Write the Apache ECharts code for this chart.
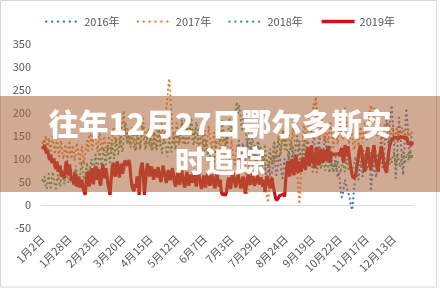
<!DOCTYPE html>
<html>
<head>
<meta charset="utf-8">
<script src="https://cdn.jsdelivr.net/npm/echarts@6/dist/echarts.min.js"></script>
<style>
html,body{margin:0;padding:0;background:#fff;}
#chart{width:440px;height:288px;}
</style>
</head>
<body>
<div id="chart"></div>
<script>
// Category labels: daily dates (leap-year calendar), 1月2日 .. 12月31日, with 5月1日 and 10月1日-7日 absent
const monthDays = [31,29,31,30,31,30,31,31,30,31,30,31];
const skippedDates = ['5月1日','10月1日','10月2日','10月3日','10月4日','10月5日','10月6日','10月7日'];
const categories = [];
for (let m = 0; m < 12; m++) {
  for (let d = (m === 0 ? 2 : 1); d <= monthDays[m]; d++) {
    const s = (m + 1) + '月' + d + '日';
    if (skippedDates.indexOf(s) < 0) categories.push(s);
  }
}

const seriesNames = ['2016年','2017年','2018年','2019年'];
const yTicks = { min: -50, max: 350, step: 50 };

const values2019 = [
128,122,131,118,112,120,104,98,110,92,88,101,84,78,95,72,68,86,62,74,66,
58,82,95,76,64,88,70,52,60,45,72,58,40,48,62,38,44,55,35,30,22,
48,72,65,40,58,80,62,45,70,85,55,66,78,50,42,68,88,72,58,80,64,
45,35,22,55,80,92,70,62,86,95,74,60,82,90,68,78,96,100,92,85,98,
88,60,42,35,30,45,38,62,55,22,70,85,92,66,22,48,75,90,80,62,72,
84,66,55,78,70,60,82,74,58,50,68,86,72,64,48,58,76,62,54,70,80,
65,48,40,56,70,52,44,62,75,58,46,38,60,72,50,42,66,58,48,70,62,
54,40,68,76,58,45,35,52,64,48,38,60,70,55,42,50,66,58,44,36,62,
70,52,40,55,30,22,18,25,20,28,45,60,50,35,55,72,60,48,38,56,68,
58,44,36,50,62,48,25,40,58,66,52,44,60,70,55,42,38,56,64,50,45,
60,52,40,55,28,48,62,55,44,36,50,58,40,30,18,10,8,15,20,18,22,
20,24,18,55,80,95,70,62,88,100,76,65,90,108,82,70,95,85,72,98,104,
88,76,110,125,98,84,118,130,102,90,80,115,126,96,86,112,122,100,92,120,108,
96,118,128,104,92,115,110,112,110,108,111,110,112,106,118,124,100,92,130,122,106,
128,110,92,78,65,58,55,62,75,90,108,122,130,118,98,84,72,95,112,126,104,
88,76,100,118,130,108,92,80,72,96,114,128,116,98,84,76,70,92,112,128,136,
142,145,146,144,147,145,143,146,148,145,147,144,146,145,148,140,132,128,135,130,138
];

const values2017 = [
135,142,128,150,138,122,145,130,118,140,152,126,110,132,145,120,105,128,140,115,100,
118,132,108,95,125,140,112,100,130,118,96,110,135,122,105,90,115,128,102,88,110,
125,140,118,150,165,138,120,155,172,148,130,115,142,160,135,118,128,150,140,122,110,
135,150,128,112,145,168,152,130,175,190,160,142,125,158,180,205,172,150,138,165,148,
130,155,172,145,125,118,140,162,150,132,120,145,170,188,155,138,125,150,165,142,130,
118,140,158,135,122,150,170,145,128,160,185,150,135,170,205,230,258,275,240,200,168,
150,132,160,178,145,130,155,170,148,135,162,185,158,140,130,152,175,160,142,128,150,
165,140,125,148,170,155,132,118,145,162,138,120,150,172,148,130,115,140,158,135,122,
145,160,130,112,138,155,128,108,125,148,132,110,95,120,142,118,100,88,112,130,105,
92,115,128,102,85,70,98,60,25,55,88,110,95,78,102,120,98,80,65,90,108,
85,70,95,110,80,45,20,5,30,75,102,88,120,140,112,95,128,150,130,108,125,
145,162,138,120,150,172,155,130,118,142,168,150,125,105,80,40,2,30,90,135,160,
178,150,132,165,190,172,150,180,205,220,198,235,210,185,160,142,170,188,155,138,160,
175,150,135,160,182,158,140,125,152,170,148,132,160,185,168,150,142,175,213,190,165,
150,132,158,175,148,130,120,145,165,140,128,152,170,148,135,160,182,158,140,168,190,
205,217,198,185,210,196,172,150,165,188,160,142,135,158,175,150,138,162,180,155,140,
160,175,150,135,158,170,148,160,142,155,168,150,162,158,145,152,165,148,155,160,150
];

const values2018 = [
55,48,62,40,35,52,68,45,38,60,72,55,42,35,58,66,50,40,62,75,58,
45,70,82,60,48,55,78,65,50,42,68,85,72,58,46,62,80,95,70,55,65,
78,92,70,58,85,100,82,68,95,110,88,75,102,120,96,80,108,125,100,88,115,
130,105,92,118,138,115,100,125,145,120,108,135,152,128,115,142,165,180,150,132,158,
140,125,150,168,145,130,118,142,160,138,122,148,172,150,135,120,145,162,140,128,152,
135,118,140,158,132,120,145,165,142,128,112,135,155,138,120,105,128,150,130,115,138,
155,132,120,145,168,150,135,162,185,160,142,130,155,175,152,140,165,190,170,148,135,
158,180,162,140,128,150,172,148,130,118,140,125,108,120,102,88,75,70,92,115,138,
160,178,150,135,158,182,165,140,128,150,135,162,188,170,148,175,200,185,210,224,195,
218,205,180,160,185,200,175,150,132,158,140,118,130,150,128,110,95,120,140,115,100,
125,108,90,115,132,110,95,80,105,122,100,88,112,135,118,100,125,145,128,110,140,
160,138,120,145,130,110,95,118,140,125,105,88,112,130,150,128,108,92,75,98,120,
140,118,100,85,110,128,105,90,72,95,112,88,70,82,100,92,78,95,110,86,75,
90,100,82,70,88,98,78,72,92,85,74,96,88,76,70,84,95,80,72,90,100,
82,75,95,88,70,78,92,105,85,72,90,110,95,80,100,118,98,85,108,92,80,
96,115,100,88,105,125,108,92,85,100,118,95,82,98,112,90,80,95,108,88,100,
92,105,115,98,85,100,112,95,82,98,108,115,102,90,105,112,98,108,115,100,110
];

// 2016 data begins at 7月9日
const start2016 = '7月9日';
const values2016 = [
120,140,110,95,128,135,105,88,115,138,125,100,140,118,98,112,130,105,92,120,135,
110,95,80,105,113,88,70,55,75,95,60,48,72,90,108,85,65,78,100,112,92,
70,58,85,100,78,62,90,115,95,80,105,125,100,85,70,95,118,140,112,95,120,
135,110,92,118,150,128,105,90,115,138,160,130,112,98,125,145,118,100,88,110,132,
150,125,105,90,112,130,98,82,70,88,105,78,60,72,55,28,17,22,40,55,45,
35,30,26,10,-5,-11,15,40,62,85,70,55,78,95,80,62,88,110,92,75,98,
115,90,30,55,80,105,75,60,88,112,95,130,150,118,98,125,160,185,150,128,170,
200,217,180,140,100,58,95,150,190,165,130,90,65,110,160,210,185,140,100,120,150
];

const off2016 = categories.indexOf(start2016);
const data2016 = categories.map((c, i) => i < off2016 ? null : (values2016[i - off2016] !== undefined ? values2016[i - off2016] : null));

const colors = ['#4472C4', '#ED7D31', '#4A9E5C', '#C9191E'];
const dotted = [0.1, 4.6];

const chart = echarts.init(document.getElementById('chart'), null, {renderer: 'canvas'});
const font = '"Noto Sans CJK SC", "Noto Sans", sans-serif';

function dottedSeries(name, data, color, extra) {
  return Object.assign({
    name: name, type: 'line', data: data, symbol: 'none', showSymbol: false,
    connectNulls: false,
    lineStyle: { color: color, width: 2.2, type: dotted, cap: 'round' },
    itemStyle: { color: color }
  }, extra || {});
}

const legendDot = { type: [0.1, 5.8], width: 2.4, cap: 'round' };
const hiddenSym = { opacity: 0, color: 'rgba(0,0,0,0)', borderWidth: 0 };

chart.setOption({
  animation: false,
  textStyle: { fontFamily: font },
  color: colors,
  legend: {
    top: 11, left: 'center', itemWidth: 33, itemHeight: 14, itemGap: 17,
    textStyle: { color: '#595959', fontSize: 11, fontFamily: font },
    itemStyle: hiddenSym,
    data: [
      { name: seriesNames[0], lineStyle: legendDot, itemStyle: hiddenSym },
      { name: seriesNames[1], lineStyle: legendDot, itemStyle: hiddenSym },
      { name: seriesNames[2], lineStyle: legendDot, itemStyle: hiddenSym },
      { name: seriesNames[3], lineStyle: { type: 'solid', width: 3.5 }, itemStyle: hiddenSym }
    ]
  },
  grid: { left: 42, right: 27, top: 44, bottom: 60, containLabel: false },
  xAxis: {
    type: 'category', data: categories, boundaryGap: true,
    axisLine: { show: false, onZero: false },
    axisTick: { show: false },
    splitLine: { show: false },
    axisLabel: { interval: 25, rotate: 45, color: '#595959', fontSize: 11, margin: 9, fontFamily: font }
  },
  yAxis: {
    type: 'value', min: yTicks.min, max: yTicks.max, interval: yTicks.step,
    axisLine: { show: false }, axisTick: { show: false },
    splitLine: { show: false },
    axisLabel: { color: '#595959', fontSize: 11, margin: 11, fontFamily: font }
  },
  series: [
    dottedSeries(seriesNames[0], data2016, colors[0], {
      markLine: {
        silent: true, symbol: 'none', label: { show: false },
        lineStyle: { color: '#D9D9D9', type: 'solid', width: 1 },
        data: [{ yAxis: 0 }]
      }
    }),
    dottedSeries(seriesNames[1], values2017, colors[1]),
    dottedSeries(seriesNames[2], values2018, colors[2]),
    {
      name: seriesNames[3], type: 'line', data: values2019, symbol: 'none', showSymbol: false,
      lineStyle: { color: colors[3], width: 3.2 }, itemStyle: { color: colors[3] }
    }
  ],
  graphic: [
    { type: 'rect', z: 90, silent: true, shape: { x: 0.5, y: 0.5, width: 436, height: 286.5 },
      style: { fill: 'none', stroke: '#D6D6D6', lineWidth: 1 } },
    { type: 'rect', z: 100, silent: true, shape: { x: 0, y: 96, width: 440, height: 96 },
      style: { fill: 'rgba(170,101,57,0.55)' } },
    { type: 'text', z: 101, silent: true, x: 220, y: 142,
      style: { text: '往年12月27日鄂尔多斯实\n时追踪', fill: '#ffffff', align: 'center', verticalAlign: 'middle',
        fontSize: 30, fontWeight: 900, lineHeight: 37, fontFamily: '"Noto Sans CJK SC", sans-serif' } }
  ]
});
</script>
</body>
</html>
